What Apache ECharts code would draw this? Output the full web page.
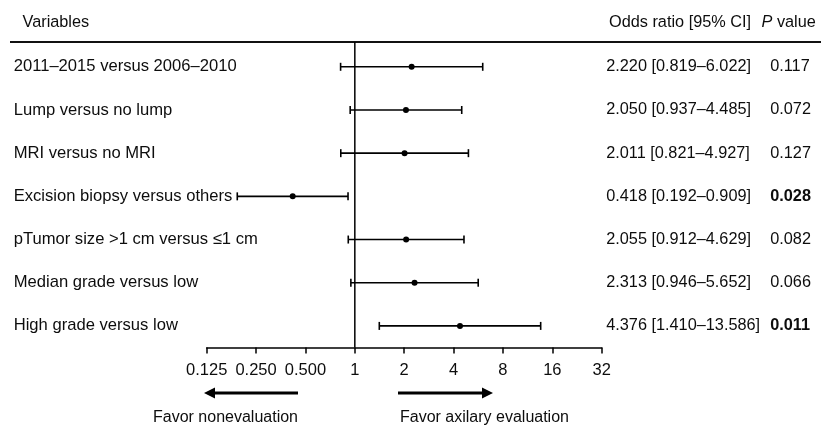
<!DOCTYPE html>
<html>
<head>
<meta charset="utf-8">
<script src="https://cdn.jsdelivr.net/npm/echarts@6/dist/echarts.min.js"></script>
<style>html,body{margin:0;padding:0;background:#fff}#c{width:821px;height:426px}</style>
</head>
<body>
<div id="c"></div>
<script>
const categories = [
  '2011–2015 versus 2006–2010',
  'Lump versus no lump',
  'MRI versus no MRI',
  'Excision biopsy versus others',
  'pTumor size >1 cm versus ≤1 cm',
  'Median grade versus low',
  'High grade versus low'
];
const orValues = [2.220, 2.050, 2.011, 0.418, 2.055, 2.313, 4.376];
const ciLower = [0.819, 0.937, 0.821, 0.192, 0.912, 0.946, 1.410];
const ciUpper = [6.022, 4.485, 4.927, 0.909, 4.629, 5.652, 13.586];
const orTexts = ['2.220 [0.819–6.022]', '2.050 [0.937–4.485]', '2.011 [0.821–4.927]',
  '0.418 [0.192–0.909]', '2.055 [0.912–4.629]', '2.313 [0.946–5.652]', '4.376 [1.410–13.586]'];
const pValues = ['0.117', '0.072', '0.127', '0.028', '0.082', '0.066', '0.011'];
const xTicks = [0.125, 0.25, 0.5, 1, 2, 4, 8, 16, 32];
const xTickLabels = ['0.125', '0.250', '0.500', '1', '2', '4', '8', '16', '32'];

const FONT = '"Liberation Sans", Arial, sans-serif';
const TXT = '#0d0d0d';
const chart = echarts.init(document.getElementById('c'), null, {renderer: 'canvas'});

const ciData = categories.map((c, i) => [ciLower[i], ciUpper[i], orValues[i], i]);

function tickLabel(v) {
  let best = 0, bd = Infinity;
  xTicks.forEach((t, i) => { const d = Math.abs(Math.log2(t) - Math.log2(v)); if (d < bd) { bd = d; best = i; } });
  return bd < 0.01 ? xTickLabels[best] : '';
}

chart.setOption({
  animation: false,
  textStyle: {fontFamily: FONT},
  grid: {left: 206.7, right: 219.3, top: 45.2, bottom: 78.5, containLabel: false},
  xAxis: {
    type: 'log', logBase: 2, min: 0.125, max: 32, splitNumber: 8,
    axisLine: {show: true, lineStyle: {color: '#000', width: 1.5}},
    axisTick: {show: true, length: 6, lineStyle: {color: '#000', width: 1.5}},
    minorTick: {show: false},
    splitLine: {show: false},
    axisLabel: {formatter: tickLabel, color: TXT, fontSize: 16.5, fontFamily: FONT, margin: 14}
  },
  yAxis: [{
    type: 'category', data: categories, inverse: true,
    axisLine: {show: false}, axisTick: {show: false}, splitLine: {show: false},
    axisLabel: {align: 'left', margin: 193, color: TXT, fontSize: 16.6, fontFamily: FONT}
  }, {
    type: 'category', data: categories, inverse: true, position: 'right',
    axisLine: {show: false}, axisTick: {show: false}, splitLine: {show: false},
    axisLabel: {
      align: 'left', margin: 4.5, color: TXT, fontSize: 16.3, fontFamily: FONT,
      formatter: function (v, i) {
        const bold = parseFloat(pValues[i]) < 0.05;
        return '{a|' + orTexts[i] + '}{' + (bold ? 'pb' : 'p') + '|' + pValues[i] + '}';
      },
      rich: {
        a: {width: 164, fontSize: 16.3, fontFamily: FONT, color: TXT},
        p: {fontSize: 16.3, fontFamily: FONT, color: TXT},
        pb: {fontSize: 16.3, fontFamily: FONT, color: TXT, fontWeight: 'bold'}
      }
    }
  }],
  series: [{
    type: 'custom',
    data: ciData,
    encode: {x: [0, 1, 2], y: 3},
    renderItem: function (params, api) {
      const idx = api.value(3);
      const lo = api.coord([api.value(0), idx]);
      const hi = api.coord([api.value(1), idx]);
      const pt = api.coord([api.value(2), idx]);
      const cap = 4;
      const st = {stroke: '#000', lineWidth: 1.6};
      return {
        type: 'group',
        children: [
          {type: 'line', shape: {x1: lo[0], y1: lo[1], x2: hi[0], y2: hi[1]}, style: st},
          {type: 'line', shape: {x1: lo[0], y1: lo[1] - cap, x2: lo[0], y2: lo[1] + cap}, style: st},
          {type: 'line', shape: {x1: hi[0], y1: hi[1] - cap, x2: hi[0], y2: hi[1] + cap}, style: st},
          {type: 'circle', shape: {cx: pt[0], cy: pt[1], r: 3}, style: {fill: '#000'}}
        ]
      };
    }
  }]
});

const x1 = chart.convertToPixel({xAxisIndex: 0}, 1);
const gridBottom = 426 - 78.5;

chart.setOption({
  graphic: [
    {type: 'text', left: 22.5, top: 14.5, style: {text: 'Variables', font: '16.3px ' + FONT, fill: TXT}},
    {type: 'text', left: 609, top: 14.5, style: {text: 'Odds ratio [95% CI]', font: '16.3px ' + FONT, fill: TXT}},
    {type: 'text', left: 761.5, top: 14.5, style: {
      text: '{i|P} value', font: '16.3px ' + FONT, fill: TXT,
      rich: {i: {fontStyle: 'italic', fontSize: 16.3, fontFamily: FONT, fill: TXT}}
    }},
    {type: 'line', shape: {x1: 10, y1: 42, x2: 821, y2: 42}, style: {stroke: '#111', lineWidth: 2}},
    {type: 'line', shape: {x1: x1, y1: 42, x2: x1, y2: gridBottom}, style: {stroke: '#000', lineWidth: 1.5}},
    {type: 'line', shape: {x1: 298, y1: 393, x2: 213, y2: 393}, style: {stroke: '#000', lineWidth: 3}},
    {type: 'polygon', shape: {points: [[204, 393], [215, 387.5], [215, 398.5]]}, style: {fill: '#000'}},
    {type: 'line', shape: {x1: 398, y1: 393, x2: 484, y2: 393}, style: {stroke: '#000', lineWidth: 3}},
    {type: 'polygon', shape: {points: [[493, 393], [482, 387.5], [482, 398.5]]}, style: {fill: '#000'}},
    {type: 'text', left: 153, top: 409.5, style: {text: 'Favor nonevaluation', font: '16px ' + FONT, fill: TXT}},
    {type: 'text', left: 400, top: 409.5, style: {text: 'Favor axilary evaluation', font: '16px ' + FONT, fill: TXT}}
  ]
});
</script>
</body>
</html>
